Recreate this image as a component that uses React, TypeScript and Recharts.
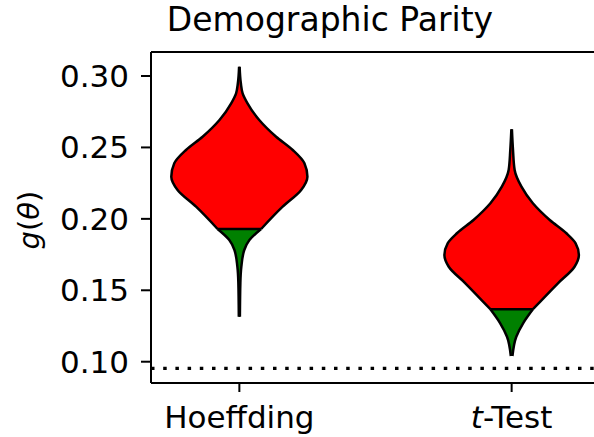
import React from 'react';
import { ComposedChart, Area, XAxis, YAxis, ReferenceLine } from 'recharts';

// ---- data ----
const categories = ['Hoeffding', 't-Test'];
const categoryPositions = [0, 1];

// Hoeffding violin: sample levels (g value) and half-widths of the density outline
const hoeffdingLevels = [0.3065, 0.2949, 0.2879, 0.2809, 0.2692, 0.2575, 0.2482, 0.2389, 0.2295, 0.2202, 0.2085, 0.1929, 0.1852, 0.1782, 0.1665, 0.1551, 0.1315];
const hoeffdingHalfWidths = [0.001, 0.0055, 0.012, 0.03, 0.073, 0.135, 0.196, 0.239, 0.25, 0.227, 0.159, 0.08, 0.037, 0.018, 0.0073, 0.0037, 0.002];
const hoeffdingThreshold = 0.1929;

// t-Test violin
const tTestLevels = [0.2627, 0.2482, 0.2342, 0.2225, 0.2109, 0.1992, 0.1899, 0.1829, 0.1747, 0.1665, 0.1549, 0.1367, 0.1269, 0.1175, 0.104];
const tTestHalfWidths = [0.001, 0.005, 0.011, 0.036, 0.078, 0.14, 0.201, 0.235, 0.247, 0.231, 0.17, 0.078, 0.042, 0.017, 0.003];
const tTestThreshold = 0.1367;

const constraintLevel = 0.0954;
const yTicks = [0.1, 0.15, 0.2, 0.25, 0.3];
const yDomain = [0.0851, 0.3168];
const xDomain = [-0.3245, 1.3245];

const FONT = '"DejaVu Sans", sans-serif';

type Pt = { y: number; band: [number, number] };

function buildSegments(levels: number[], widths: number[], threshold: number, center: number) {
  const pts: Pt[] = levels.map((v, i) => ({ y: v, band: [center - widths[i], center + widths[i]] as [number, number] }));
  const upper = pts.filter((p) => p.y >= threshold).sort((a, b) => a.y - b.y);
  const lower = pts.filter((p) => p.y <= threshold).sort((a, b) => a.y - b.y);
  const idx = levels.indexOf(threshold);
  const w = widths[idx];
  return { upper, lower, seg: [{ x: center - w, y: threshold }, { x: center + w, y: threshold }] };
}

const hoeff = buildSegments(hoeffdingLevels, hoeffdingHalfWidths, hoeffdingThreshold, categoryPositions[0]);
const ttest = buildSegments(tTestLevels, tTestHalfWidths, tTestThreshold, categoryPositions[1]);

function XTick(props: any) {
  const { x, y, payload } = props;
  const label = categories[categoryPositions.indexOf(payload.value)];
  return (
    <text x={x} y={y} dy="0.71em" textAnchor="middle" fill="#000" fontSize={31} fontFamily={FONT}>
      {label === 't-Test' ? (
        <>
          <tspan fontStyle="italic">t</tspan>
          <tspan>-Test</tspan>
        </>
      ) : (
        label
      )}
    </text>
  );
}

export default function App() {
  const areaCommon = {
    dataKey: 'band',
    type: 'monotone' as const,
    stroke: '#000',
    strokeWidth: 2.5,
    fillOpacity: 1,
    dot: false,
    activeDot: false,
    isAnimationActive: false,
  };
  return (
    <div style={{ position: 'absolute', left: 0, top: 0, width: 594, height: 437, overflow: 'hidden' }}>
      <ComposedChart
        width={608}
        height={437}
        layout="vertical"
        margin={{ top: 52, right: 8, bottom: 0, left: 0 }}
      >
        <XAxis
          type="number"
          domain={xDomain}
          ticks={categoryPositions}
          allowDataOverflow
          interval={0}
          height={54}
          tickSize={9}
          tickMargin={14}
          tick={<XTick />}
          tickLine={{ stroke: '#000', strokeWidth: 2 }}
          axisLine={{ stroke: '#000', strokeWidth: 2 }}
        />
        <YAxis
          type="number"
          dataKey="y"
          domain={yDomain}
          ticks={yTicks}
          reversed
          allowDataOverflow
          interval={0}
          width={151}
          tickSize={10}
          tickMargin={12}
          tickFormatter={(v: number) => v.toFixed(2)}
          tick={{ fill: '#000', fontSize: 31, fontFamily: FONT }}
          tickLine={{ stroke: '#000', strokeWidth: 2 }}
          axisLine={{ stroke: '#000', strokeWidth: 2 }}
        />
        <Area {...areaCommon} data={hoeff.upper} fill="#ff0000" />
        <Area {...areaCommon} data={hoeff.lower} fill="#008000" />
        <Area {...areaCommon} data={ttest.upper} fill="#ff0000" />
        <Area {...areaCommon} data={ttest.lower} fill="#008000" />
        <ReferenceLine segment={hoeff.seg} stroke="#000" strokeWidth={2.5} />
        <ReferenceLine segment={ttest.seg} stroke="#000" strokeWidth={2.5} />
        <ReferenceLine y={constraintLevel} stroke="#000" strokeWidth={3.3} strokeDasharray="3.5 8.7" />
        <ReferenceLine y={yDomain[1]} stroke="#000" strokeWidth={2} />
      </ComposedChart>
      <svg
        width={594}
        height={437}
        style={{ position: 'absolute', left: 0, top: 0, pointerEvents: 'none' }}
      >
        <text x={330} y={31} textAnchor="middle" fontSize={33} fontFamily={FONT} fill="#000">
          Demographic Parity
        </text>
        <text
          x={39}
          y={220}
          transform="rotate(-90, 39, 220)"
          textAnchor="middle"
          fontSize={29}
          fontFamily={FONT}
          fill="#000"
        >
          <tspan fontStyle="italic">g</tspan>
          <tspan>(</tspan>
          <tspan fontStyle="italic">θ</tspan>
          <tspan>)</tspan>
        </text>
      </svg>
    </div>
  );
}
